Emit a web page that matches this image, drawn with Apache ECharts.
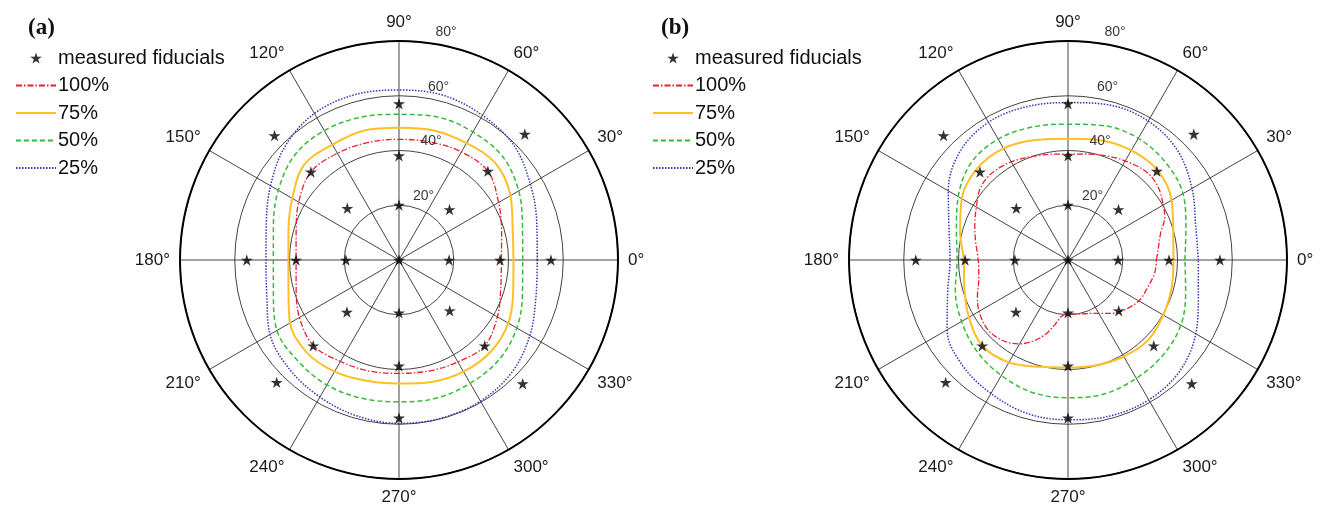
<!DOCTYPE html>
<html>
<head>
<meta charset="utf-8">
<script src="https://cdn.jsdelivr.net/npm/echarts/dist/echarts.min.js"></script>
<style>
html, body { margin: 0; padding: 0; background: #fff; }
#chart { width: 1326px; height: 514px; }
</style>
</head>
<body>
<div id="chart"></div>
<script>
// polar angles (deg) used for the read-off contour radii
const angles = [0, 15, 30, 45, 60, 75, 90, 105, 120, 135, 150, 165,
                180, 195, 210, 225, 240, 255, 270, 285, 300, 315, 330, 345];
const radiusTicks = [20, 40, 60, 80];

// measured fiducials (same grid on both panels)
const fidAngle = [0, 0, 0, 0, 45, 45, 45, 90, 90, 90, 135, 135, 135,
                  180, 180, 180, 225, 225, 225, 270, 270, 270, 315, 315, 315];
const fidR = [0, 18.3, 36.9, 55.5, 26.1, 45.9, 65.0, 20.1, 38.1, 57.1, 26.7, 45.5, 64.3,
              19.4, 37.6, 55.6, 26.9, 44.3, 63.2, 19.3, 38.7, 57.7, 26.2, 44.3, 63.9];

// panel (a) contours, radius at each of `angles`
const a100 = [37.4, 38.8, 42.0, 45.9, 45.6, 44.6, 44.1, 44.4, 45.0, 45.5, 42.3, 38.9,
              37.6, 38.9, 42.0, 44.2, 42.8, 42.0, 41.4, 42.0, 43.0, 44.3, 41.5, 38.5];
const a75 = [41.8, 43.0, 47.0, 49.9, 49.3, 49.0, 48.3, 49.0, 48.7, 49.1, 45.0, 41.8,
             40.4, 41.8, 46.0, 47.7, 47.1, 45.7, 45.1, 46.1, 47.1, 47.4, 46.1, 43.2];
const a50 = [45.2, 46.7, 50.5, 53.5, 54.0, 54.1, 53.2, 54.0, 54.6, 54.0, 50.9, 47.5,
             45.9, 47.5, 51.5, 52.2, 52.7, 52.3, 51.8, 52.3, 52.0, 51.6, 49.7, 46.7];
const a25 = [50.5, 52.1, 55.4, 59.3, 61.0, 62.3, 62.1, 62.5, 61.8, 58.8, 54.2, 50.2,
             48.6, 50.0, 54.4, 56.5, 57.8, 59.0, 59.7, 59.8, 59.5, 58.2, 55.2, 51.8];

// panel (b) contours
const b100Angle = [0, 6.3, 16.1, 24.1, 30.8, 39.2, 47.3, 56.8, 67.2, 79.3, 90, 97.2, 107.8,
                   118.2, 125.5, 133.8, 141.6, 149.8, 158.5, 167.8, 175.8, 184.3, 192.6,
                   202, 211.1, 221.2, 230.2, 239.2, 245.8, 252.7, 258.4, 263.3, 270, 277,
                   296.6, 309.1, 315, 321.1, 330.8, 341.6, 351.3];
const b100 = [32.3, 33.1, 35.2, 38.7, 40.4, 42.4, 43.1, 42.2, 40.9, 39.4, 38.7, 39.0, 39.9,
              41.2, 41.9, 42.2, 41.2, 38.7, 36.6, 34.6, 33.2, 32.7, 33.4,
              35.7, 37.7, 38.8, 38.0, 35.7, 32.7, 28.7, 24.2, 20.8, 19.5, 19.9,
              21.8, 25.1, 26.7, 28.1, 30.0, 30.8, 32.0];
const b75 = [38.5, 39.8, 43.7, 46.3, 46.2, 45.3, 44.3, 45.4, 47.1, 47.1, 44.8, 40.8,
             38.1, 39.2, 41.8, 44.3, 43.2, 40.4, 39.3, 39.8, 40.7, 41.4, 40.2, 39.2];
const b50 = [42.7, 44.6, 48.5, 50.4, 51.3, 50.8, 49.6, 50.3, 51.0, 50.1, 46.3, 42.2,
             40.5, 42.6, 44.9, 47.1, 48.7, 50.1, 50.3, 50.7, 49.9, 49.1, 47.6, 44.5];
const b25 = [47.6, 48.3, 52.3, 56.6, 58.6, 58.6, 57.5, 58.0, 58.1, 55.9, 50.5, 45.0,
             43.1, 45.5, 51.0, 54.5, 56.3, 58.0, 58.4, 59.0, 59.0, 57.6, 53.9, 49.3];

const starPath = 'path://M50 0 L61.17 34.63 L97.55 34.55 L68.07 55.87 L79.39 90.45 L50 69 L20.61 90.45 L31.93 55.87 L2.45 34.55 L38.83 34.63 Z';
const font = 'Liberation Sans, Arial, sans-serif';

const styles = {
  '100%': { color: '#e8202a', width: 1.3, type: [6, 2, 1.5, 2] },
  '75%': { color: '#ffbf26', width: 2, type: 'solid' },
  '50%': { color: '#36bb36', width: 1.5, type: [5, 3] },
  '25%': { color: '#3434b4', width: 1.5, type: [1.5, 1.5] }
};

// closed loop in [r, angle] pairs
function loop (r, ang) {
  let d = r.map((v, i) => [v, ang[i]]);
  d.push([r[0], ang[0] + 360]);
  return d;
}

function contour (name, r, ang, pi) {
  let s = styles[name];
  return {
    name: name, type: 'line', coordinateSystem: 'polar', polarIndex: pi,
    data: loop(r, ang), symbol: 'none', smooth: 0.35, clip: false,
    lineStyle: { color: s.color, width: s.width, type: s.type },
    itemStyle: { color: s.color }, z: 3, animation: false
  };
}

function fiducials (pi) {
  return {
    name: 'measured fiducials', type: 'scatter', coordinateSystem: 'polar', polarIndex: pi,
    data: fidR.map((v, i) => [v, fidAngle[i]]),
    symbol: starPath, symbolSize: 12, symbolKeepAspect: true, clip: false,
    itemStyle: { color: '#000' }, z: 6, animation: false
  };
}

function radLabels (pi) {
  return {
    type: 'scatter', coordinateSystem: 'polar', polarIndex: pi, silent: true,
    symbolSize: 0, clip: false, z: 7, animation: false,
    data: radiusTicks.map(v => ({
      value: [v, 90],
      label: { offset: [17 + 0.375 * v, -9] }
    })),
    label: {
      show: true, position: 'inside', color: '#000', fontSize: 14, fontFamily: font,
      formatter: p => p.value[0] + '°'
    }
  };
}

function angleAxis (pi) {
  return {
    polarIndex: pi, type: 'value', min: 0, max: 360, interval: 30,
    startAngle: 0, clockwise: false,
    axisLine: { lineStyle: { color: '#000', width: 2 } },
    axisTick: { show: false },
    splitLine: { show: true, lineStyle: { color: '#444', width: 1 } },
    axisLabel: {
      margin: 10, color: '#1a1a1a', fontSize: 17, fontFamily: font,
      formatter: v => (v === 360 ? '' : v + '°')
    }
  };
}

function radiusAxis (pi) {
  return {
    polarIndex: pi, type: 'value', min: 0, max: 80, interval: 20,
    axisLine: { show: false }, axisTick: { show: false }, axisLabel: { show: false },
    splitLine: { show: true, lineStyle: { color: '#444', width: 1 } }
  };
}

function legend (left) {
  return {
    orient: 'vertical', left: left, top: 48, padding: 0,
    itemWidth: 40, itemHeight: 11, itemGap: 7.5,
    textStyle: { fontSize: 20, fontFamily: font, color: '#111', lineHeight: 20, padding: [0, 0, 0, -3] },
    data: [
      { name: 'measured fiducials' },
      { name: '100%', itemStyle: { opacity: 0 } },
      { name: '75%', itemStyle: { opacity: 0 } },
      { name: '50%', itemStyle: { opacity: 0 } },
      { name: '25%', itemStyle: { opacity: 0 } }
    ]
  };
}

const chart = echarts.init(document.getElementById('chart'));
chart.setOption({
  backgroundColor: '#fff',
  animation: false,
  title: [
    { text: '(a)', left: 23, top: 12, textStyle: { fontFamily: 'Liberation Serif', fontWeight: 'bold', fontSize: 23, color: '#111' } },
    { text: '(b)', left: 656, top: 12, textStyle: { fontFamily: 'Liberation Serif', fontWeight: 'bold', fontSize: 23, color: '#111' } }
  ],
  legend: [legend(15), legend(652)],
  polar: [
    { center: [399, 260], radius: 219 },
    { center: [1068, 260], radius: 219 }
  ],
  angleAxis: [angleAxis(0), angleAxis(1)],
  radiusAxis: [radiusAxis(0), radiusAxis(1)],
  series: [
    fiducials(0),
    contour('100%', a100, angles, 0),
    contour('75%', a75, angles, 0),
    contour('50%', a50, angles, 0),
    contour('25%', a25, angles, 0),
    radLabels(0),
    fiducials(1),
    contour('100%', b100, b100Angle, 1),
    contour('75%', b75, angles, 1),
    contour('50%', b50, angles, 1),
    contour('25%', b25, angles, 1),
    radLabels(1)
  ]
});
</script>
</body>
</html>
